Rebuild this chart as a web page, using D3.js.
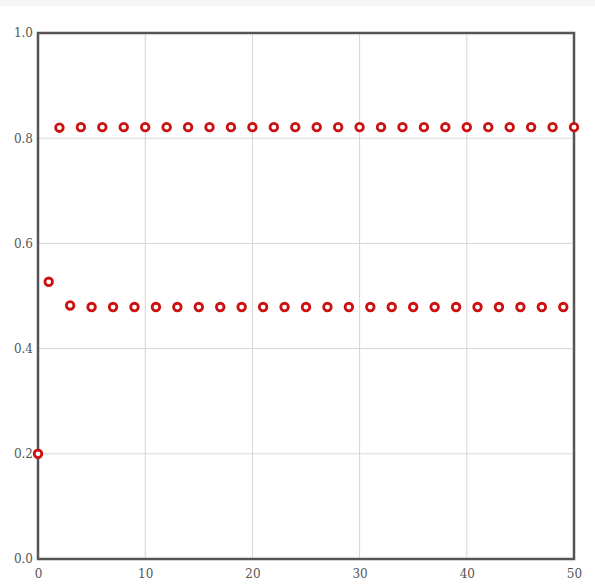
<!DOCTYPE html>
<html><head><meta charset="utf-8">
<script src="https://cdn.jsdelivr.net/npm/d3@7"></script>
<style>
html,body{margin:0;padding:0;background:#fff;}
svg{display:block;}
</style></head>
<body>
<svg id="c" width="595" height="585"></svg>
<script>
const xValues = [0,1,2,3,4,5,6,7,8,9,10,11,12,13,14,15,16,17,18,19,20,21,22,23,24,25,26,27,28,29,30,31,32,33,34,35,36,37,38,39,40,41,42,43,44,45,46,47,48,49,50];
const yValues = [0.20,0.527,0.82,0.482,0.821,0.479,0.821,0.479,0.821,0.479,0.821,0.479,0.821,0.479,0.821,0.479,0.821,0.479,0.821,0.479,0.821,0.479,0.821,0.479,0.821,0.479,0.821,0.479,0.821,0.479,0.821,0.479,0.821,0.479,0.821,0.479,0.821,0.479,0.821,0.479,0.821,0.479,0.821,0.479,0.821,0.479,0.821,0.479,0.821,0.479,0.821];
const xTicks = [0,10,20,30,40,50];
const yTicks = [0.0,0.2,0.4,0.6,0.8,1.0];

const svg = d3.select("#c");
const m = {l:38, t:33, r:574, b:559};
svg.append("rect").attr("x",0).attr("y",0).attr("width",595).attr("height",6).attr("fill","#f6f6f6");

const x = d3.scaleLinear().domain([0,50]).range([m.l, m.r]);
const y = d3.scaleLinear().domain([0,1]).range([m.b, m.t]);

const g = svg.append("g");
g.selectAll(".gx").data(xTicks).enter().append("line")
  .attr("x1",d=>x(d)).attr("x2",d=>x(d)).attr("y1",m.t).attr("y2",m.b)
  .attr("stroke","#d6d6d6").attr("stroke-width",1);
g.selectAll(".gy").data(yTicks).enter().append("line")
  .attr("y1",d=>y(d)).attr("y2",d=>y(d)).attr("x1",m.l).attr("x2",m.r)
  .attr("stroke","#d6d6d6").attr("stroke-width",1);

const xAxis = d3.axisBottom(x).tickValues(xTicks).tickFormat(d3.format("d")).tickSize(0).tickPadding(10);
const yAxis = d3.axisLeft(y).tickValues(yTicks).tickFormat(d3.format(".1f")).tickSize(0).tickPadding(5);
const ax = svg.append("g").attr("transform",`translate(0,${m.b})`).call(xAxis);
const ay = svg.append("g").attr("transform",`translate(${m.l},0)`).call(yAxis);
[ax,ay].forEach(a=>{
  a.select(".domain").remove();
  a.selectAll("text").attr("fill","#555").style("font-family","'DejaVu Serif', serif").style("font-size","12px");
});

svg.append("rect").attr("x",m.l).attr("y",m.t).attr("width",m.r-m.l).attr("height",m.b-m.t)
  .attr("fill","none").attr("stroke","#555").attr("stroke-width",2.5);

svg.selectAll(".pt").data(xValues.map((v,i)=>({x:v,y:yValues[i]}))).enter().append("circle")
  .attr("cx",d=>x(d.x)).attr("cy",d=>y(d.y)).attr("r",3.8)
  .attr("fill","#fff").attr("stroke","#cc1111").attr("stroke-width",2.8);
</script>
</body></html>
